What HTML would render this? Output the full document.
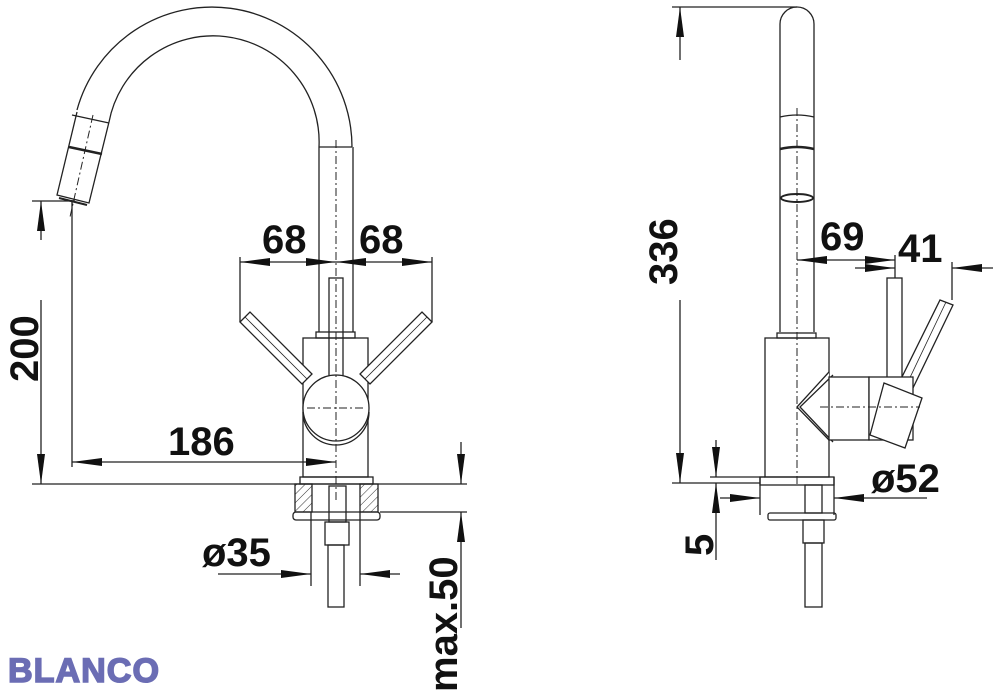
<!DOCTYPE html>
<html><head><meta charset="utf-8"><style>
html,body{margin:0;padding:0;background:#fff;}
svg{display:block}
text{font-family:"Liberation Sans",Arial,sans-serif;font-weight:bold;fill:#111}
</style></head><body>
<svg width="1000" height="694" viewBox="0 0 1000 694" xmlns="http://www.w3.org/2000/svg">
<defs>
<marker id="a" viewBox="0 0 30 8" refX="30" refY="4" markerWidth="30" markerHeight="8" markerUnits="userSpaceOnUse" orient="auto"><path d="M0,0 L30,4 L0,8 z" fill="#111"/></marker>
<pattern id="h" width="6" height="6" patternUnits="userSpaceOnUse" patternTransform="rotate(45)"><line x1="0" y1="0" x2="0" y2="6" stroke="#333" stroke-width="1"/></pattern>
</defs>
<g fill="none" stroke="#222" stroke-width="1.3">
<!-- LEFT FAUCET -->
<path d="M77,110 A140,140 0 0 1 352,147"/>
<path d="M109,122 A106,106 0 0 1 319,147"/>
<path d="M77,112 L57,195 L89,203 L109,122"/>
<line x1="72" y1="115" x2="109" y2="123"/>
<line x1="69" y1="147" x2="102" y2="154" stroke-width="2.5"/>
<line x1="59" y1="198" x2="87" y2="205" stroke-width="2"/>
<line x1="93" y1="115" x2="70" y2="217" stroke-dasharray="8,3,2,3" stroke-width="1"/>
<line x1="319" y1="147" x2="352" y2="147"/>
<line x1="319" y1="147" x2="319" y2="332"/>
<line x1="353" y1="147" x2="353" y2="332"/>
<rect x="316" y="332" width="39" height="6"/>
<rect x="303" y="338" width="65" height="139"/>
<rect x="329" y="278" width="14" height="100"/>
<path d="M240,322 L250,312 L312,374 L302,384 z" fill="#fff"/>
<line x1="245" y1="317" x2="307" y2="379" stroke-width="0.8"/>
<path d="M432,322 L422,312 L360,374 L370,384 z" fill="#fff"/>
<line x1="427" y1="317" x2="365" y2="379" stroke-width="0.8"/>
<circle cx="336" cy="408" r="33" fill="#fff"/>
<path d="M303,412 A33,33 0 0 0 369,412"/>
<line x1="336" y1="140" x2="336" y2="500" stroke-dasharray="8,3,2,3" stroke-width="1"/>
<line x1="307" y1="408" x2="366" y2="408" stroke-dasharray="8,3,2,3" stroke-width="1"/>
<rect x="300" y="477" width="73" height="7"/>
<rect x="295" y="484" width="17" height="28" fill="url(#h)"/>
<rect x="360" y="484" width="18" height="28" fill="url(#h)"/>
<rect x="293" y="512" width="87" height="8" rx="3"/>
<rect x="329" y="486" width="17" height="36"/>
<rect x="325" y="522" width="24" height="23"/>
<rect x="328" y="545" width="16" height="62"/>
<line x1="311" y1="512" x2="311" y2="586"/>
<line x1="360" y1="512" x2="360" y2="586"/>
<!-- dims left -->
<line x1="32" y1="484" x2="467" y2="484"/>
<line x1="32" y1="201" x2="75" y2="201"/>
<line x1="41" y1="240" x2="41" y2="201" marker-end="url(#a)"/>
<line x1="41" y1="300" x2="41" y2="484" marker-end="url(#a)"/>
<line x1="72" y1="200" x2="72" y2="467"/>
<line x1="200" y1="462" x2="72" y2="462" marker-end="url(#a)"/>
<line x1="200" y1="462" x2="336" y2="462" marker-end="url(#a)"/>
<line x1="240" y1="257" x2="240" y2="322"/>
<line x1="432" y1="257" x2="432" y2="322"/>
<line x1="290" y1="262" x2="240" y2="262" marker-end="url(#a)"/>
<line x1="290" y1="262" x2="336" y2="262" marker-end="url(#a)"/>
<line x1="380" y1="262" x2="336" y2="262" marker-end="url(#a)"/>
<line x1="380" y1="262" x2="432" y2="262" marker-end="url(#a)"/>
<line x1="218" y1="574" x2="311" y2="574" marker-end="url(#a)"/>
<line x1="400" y1="574" x2="360" y2="574" marker-end="url(#a)"/>
<line x1="380" y1="512" x2="467" y2="512"/>
<line x1="461" y1="442" x2="461" y2="484" marker-end="url(#a)"/>
<line x1="461" y1="628" x2="461" y2="512" marker-end="url(#a)"/>
<!-- RIGHT FAUCET -->
<path d="M780,332 L780,24 A17,17 0 0 1 814,24 L814,332"/>
<path d="M780,117 Q797,113 814,117"/>
<path d="M780,149 Q797,145 814,149" stroke-width="2.5"/>
<ellipse cx="797" cy="198" rx="16" ry="4" stroke-width="2"/>
<line x1="797" y1="108" x2="797" y2="485" stroke-dasharray="8,3,2,3" stroke-width="1"/>
<rect x="777" y="333" width="39" height="5"/>
<rect x="765" y="338" width="64" height="139"/>
<path d="M829,372 L797,407 L829,440" fill="#fff"/>
<path d="M833,375 L800,407 L833,442"/>
<rect x="829" y="377" width="40" height="63" fill="#fff"/>
<rect x="887" y="278" width="15" height="100"/>
<path d="M940,300 L953,305 L912,390 L898,385 z" fill="#fff"/>
<line x1="946" y1="302" x2="905" y2="388" stroke-width="0.8"/>
<rect x="869" y="377" width="44" height="63" fill="#fff"/>
<path d="M884,383 L922,398 L905,448 L870,435 z" fill="#fff"/>
<line x1="820" y1="407" x2="920" y2="407" stroke-dasharray="8,3,2,3" stroke-width="1"/>
<rect x="760" y="477" width="74" height="8"/>
<rect x="768" y="513" width="68" height="7" rx="2"/>
<rect x="805" y="485" width="17" height="28"/>
<rect x="803" y="520" width="21" height="23"/>
<rect x="805" y="543" width="17" height="64"/>
<!-- dims right -->
<line x1="672" y1="7" x2="797" y2="7"/>
<line x1="672" y1="483" x2="760" y2="483"/>
<line x1="680" y1="60" x2="680" y2="7" marker-end="url(#a)"/>
<line x1="680" y1="300" x2="680" y2="483" marker-end="url(#a)"/>
<line x1="710" y1="477" x2="765" y2="477"/>
<line x1="716" y1="440" x2="716" y2="477" marker-end="url(#a)"/>
<line x1="716" y1="560" x2="716" y2="483" marker-end="url(#a)"/>
<line x1="760" y1="477" x2="760" y2="515"/>
<line x1="834" y1="477" x2="834" y2="515"/>
<line x1="720" y1="498" x2="760" y2="498" marker-end="url(#a)"/>
<line x1="927" y1="498" x2="834" y2="498" marker-end="url(#a)"/>
<line x1="845" y1="260" x2="797" y2="260" marker-end="url(#a)"/>
<line x1="845" y1="260" x2="895" y2="260" marker-end="url(#a)"/>
<line x1="895" y1="255" x2="895" y2="278"/>
<line x1="855" y1="268" x2="895" y2="268" marker-end="url(#a)"/>
<line x1="993" y1="268" x2="952" y2="268" marker-end="url(#a)"/>
<line x1="952" y1="262" x2="952" y2="300"/>
</g>
<g font-size="40">
<text x="262" y="253">68</text>
<text x="359" y="253">68</text>
<text x="168" y="455">186</text>
<text x="202" y="566">ø35</text>
<text x="871" y="492">ø52</text>
<text x="820" y="250">69</text>
<text x="898" y="262">41</text>
<text transform="translate(38,382) rotate(-90)">200</text>
<text transform="translate(677,285) rotate(-90)">336</text>
<text transform="translate(713,556) rotate(-90)">5</text>
<text transform="translate(457,692) rotate(-90)">max.50</text>
</g>
<text x="8" y="682" font-size="34" style="fill:#6b6db4;stroke:#6b6db4;stroke-width:1.5;font-weight:900;letter-spacing:1px" textLength="152" lengthAdjust="spacingAndGlyphs">BLANCO</text>
</svg>
</body></html>
